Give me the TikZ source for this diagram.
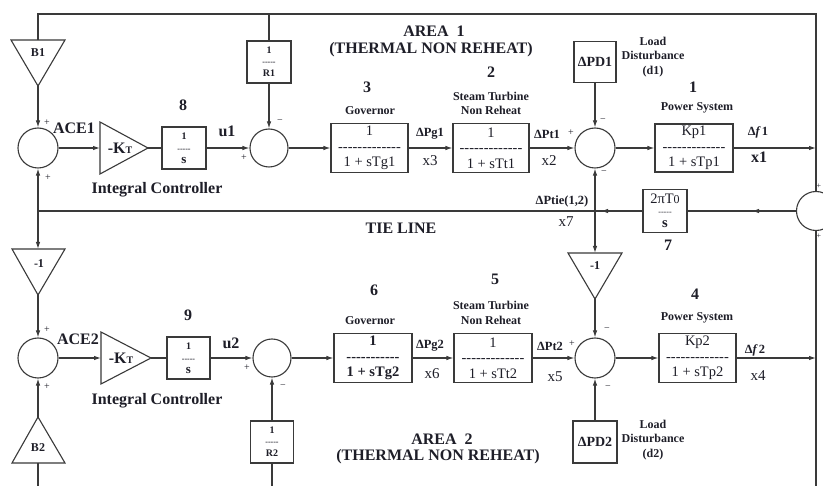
\documentclass[tikz,border=0pt]{standalone}
\usepackage{fontspec}
\setmainfont{Liberation Serif}[Ligatures=TeXOff]
\usetikzlibrary{arrows.meta,calc}
\definecolor{lc}{HTML}{3A3A3A}
\definecolor{tc}{HTML}{1E1E28}
\tikzset{
  ln/.style={draw=lc, line width=1.1pt},
  arr/.style={ln, -{Latex[length=7pt,width=4.5pt]}},
  blk/.style={draw=lc, line width=1.1pt, inner sep=0pt, align=center, text=tc,
    font=\fontsize{14.5}{15.5}\selectfont},
  sumc/.style={draw=lc, line width=1.1pt, circle, minimum size=40pt, inner sep=0pt},
  big/.style={text=tc, font=\bfseries\fontsize{16}{18}\selectfont, inner sep=0pt, align=center},
  sml/.style={text=tc, font=\bfseries\fontsize{12}{14.5}\selectfont, inner sep=0pt, align=center},
  sig/.style={text=tc, font=\bfseries\fontsize{12.5}{14}\selectfont, inner sep=0pt},
  xv/.style={text=tc, font=\fontsize{15}{17}\selectfont, inner sep=0pt},
  sgn/.style={text=tc, font=\fontsize{10}{10}\selectfont, inner sep=0pt},
  tri/.style={draw=lc, line width=1.1pt, line join=miter}
}
\begin{document}
\begin{tikzpicture}[x=1pt,y=-1pt]
\useasboundingbox (0,0) rectangle (823,486);
\clip (0,0) rectangle (823,486);
\fill[white] (0,0) rectangle (823,486);

% ---------- summing junctions ----------
\node[sumc] (ace1) at (38,148) {};
\node[sumc, minimum size=38pt] (s1) at (269,148) {};
\node[sumc] (s3) at (595,148) {};
\node[sumc, minimum size=39pt] (tie) at (816,211) {};
\node[sumc] (ace2) at (38,358) {};
\node[sumc, minimum size=38pt] (s2) at (272,358) {};
\node[sumc] (s4) at (595,358) {};

% ---------- blocks area 1 ----------
\node[blk, minimum width=44pt, minimum height=42pt, font=\bfseries\fontsize{10}{12}\selectfont] (int1) at (184,148)
  {1\\{\fontsize{8}{8}\selectfont -----}\\{\fontsize{13}{13}\selectfont s}};
\node[blk, minimum width=44pt, minimum height=42pt, font=\bfseries\fontsize{10}{12}\selectfont] (R1) at (269,62)
  {1\\[-1pt]{\fontsize{8}{8}\selectfont -----}\\R1};
\node[blk, minimum width=77pt, minimum height=49pt] (gov1) at (369.5,148)
  {1\\-------------\\1 + sTg1};
\node[blk, minimum width=76pt, minimum height=49pt] (tur1) at (491,148)
  {1\\-------------\\1 + sTt1};
\node[blk, minimum width=42pt, minimum height=41pt, font=\bfseries\fontsize{14}{15}\selectfont] (pd1) at (595,62)
  {ΔPD1};
\node[blk, minimum width=78pt, minimum height=48pt] (kp1) at (694,148)
  {Kp1\\-------------\\1 + sTp1};
\node[blk, minimum width=44pt, minimum height=43pt] (tieblk) at (665,211)
  {2πT{\fontsize{12}{12}\selectfont 0}\\[-5pt]{\fontsize{8}{8}\selectfont -----}\\[-2pt]{\bfseries s}};

% ---------- blocks area 2 ----------
\node[blk, minimum width=43pt, minimum height=42pt, font=\bfseries\fontsize{10}{12}\selectfont] (int2) at (188.5,358)
  {1\\{\fontsize{8}{8}\selectfont -----}\\{\fontsize{13}{13}\selectfont s}};
\node[blk, minimum width=43pt, minimum height=42pt, font=\bfseries\fontsize{10}{12}\selectfont] (R2) at (272,442)
  {1\\[-1pt]{\fontsize{8}{8}\selectfont -----}\\R2};
\node[blk, minimum width=78pt, minimum height=49pt, font=\bfseries\fontsize{14.5}{15.5}\selectfont] (gov2) at (373,358)
  {1\\-----------\\1 + sTg2};
\node[blk, minimum width=78pt, minimum height=49pt] (tur2) at (493,358)
  {1\\-------------\\1 + sTt2};
\node[blk, minimum width=44pt, minimum height=42pt, font=\bfseries\fontsize{14}{15}\selectfont] (pd2) at (595,442)
  {ΔPD2};
\node[blk, minimum width=77pt, minimum height=49pt] (kp2) at (697.5,358)
  {Kp2\\-------------\\1 + sTp2};

% ---------- triangles ----------
\draw[tri] (11,40) -- (65,40) -- (38,86) -- cycle;
\coordinate (b1top) at (38,40); \coordinate (b1ap) at (38,86);
\node[sml] (b1lbl) at (38,53) {B1};

\draw[tri] (100,122) -- (148,148) -- (100,174) -- cycle;
\coordinate (kt1l) at (100,148); \coordinate (kt1ap) at (148,148);
\node[big] (kt1lbl) at (120,148) {-K{\fontsize{10}{10}\selectfont T}};

\draw[tri] (12,249) -- (65,249) -- (38,295) -- cycle;
\coordinate (n1top) at (38,249); \coordinate (n1ap) at (38,295);
\node[sml] (n1lbl) at (39,264) {-1};

\draw[tri] (568,253) -- (622,253) -- (595,299) -- cycle;
\coordinate (n2top) at (595,253); \coordinate (n2ap) at (595,299);
\node[sml] (n2lbl) at (595,266) {-1};

\draw[tri] (101,332) -- (151,358) -- (101,384) -- cycle;
\coordinate (kt2l) at (101,358); \coordinate (kt2ap) at (151,358);
\node[big] (kt2lbl) at (121,358) {-K{\fontsize{10}{10}\selectfont T}};

\draw[tri] (12,463) -- (65,463) -- (38,417) -- cycle;
\coordinate (b2base) at (38,463); \coordinate (b2ap) at (38,417);
\node[sml] (b2lbl) at (38,448) {B2};

% ---------- frame coordinates ----------
\coordinate (tl) at (38,14);
\coordinate (tr) at (816,14);
\coordinate (bl) at (38,486);
\coordinate (br) at (816,486);
\coordinate (j1) at (38,211);
\coordinate (j2) at (595,211);
\coordinate (tiearr) at (752,211);
\coordinate (j2arr) at (601,211);

% ---------- connectors area 1 ----------
\draw[ln] (b1top) -- (tl) -- (tr) -- (tie.north);
\draw[ln] (R1.north) -- (R1.north |- tl);
\draw[arr] (b1ap) -- (ace1.north);
\draw[arr] (R1.south) -- (s1.north);
\draw[arr] (ace1.east) -- (kt1l);
\draw[ln] (kt1ap) -- (int1.west);
\draw[arr] (int1.east) -- (s1.west);
\draw[arr] (s1.east) -- (gov1.west);
\draw[arr] (gov1.east) -- (tur1.west);
\draw[arr] (tur1.east) -- (s3.west);
\draw[arr] (s3.east) -- (kp1.west);
\draw[arr] (kp1.east) -- (kp1.east -| tr);
\draw[arr] (pd1.south) -- (s3.north);

% ---------- tie line ----------
\draw[ln] (tie.west) -- (tieblk.east);
\draw[arr] (tie.west) -- (tiearr);
\draw[ln] (tieblk.west) -- (j1);
\draw[arr] (tieblk.west) -- (j2arr);
\draw[arr] (j2) -- (s3.south);
\draw[arr] (j2) -- (n2top);
\draw[arr] (j1) -- (ace1.south);
\draw[arr] (j1) -- (n1top);
\draw[ln] (tie.south) -- (br);

% ---------- connectors area 2 ----------
\draw[arr] (n1ap) -- (ace2.north);
\draw[arr] (b2ap) -- (ace2.south);
\draw[ln] (b2base) -- (bl);
\draw[arr] (ace2.east) -- (kt2l);
\draw[ln] (kt2ap) -- (int2.west);
\draw[arr] (int2.east) -- (s2.west);
\draw[arr] (R2.north) -- (s2.south);
\draw[ln] (R2.south) -- (R2.south |- bl);
\draw[arr] (s2.east) -- (gov2.west);
\draw[arr] (gov2.east) -- (tur2.west);
\draw[arr] (tur2.east) -- (s4.west);
\draw[arr] (s4.east) -- (kp2.west);
\draw[arr] (kp2.east) -- (kp2.east -| tr);
\draw[arr] (n2ap) -- (s4.north);
\draw[arr] (pd2.north) -- (s4.south);

% ---------- labels area 1 ----------
\node[big] (a1) at (434,31) {AREA\ \ 1};
\node[big] (a1b) at (431,50) {(THERMAL NON REHEAT)};
\node[big] (ace1l) at (74,128) {ACE1};
\node[sgn] at (47,123) {+};
\node[sgn] at (48,178) {+};
\node[big] at (183,105) {8};
\node[big] at (227,131) {u1};
\node[sgn] at (244,158) {+};
\node[sgn] at (280,122) {−};
\node[big] at (157,190) {Integral Controller};
\node[big] at (367,87) {3};
\node[sml] at (370,111) {Governor};
\node[big] at (491,72) {2};
\node[sml] at (491,103.5) {Steam Turbine\\Non Reheat};
\node[sig] at (430,134) {ΔPg1};
\node[xv] at (430,161) {x3};
\node[sig] at (547,134) {ΔPt1};
\node[sgn] at (571,133) {+};
\node[xv] at (549,161) {x2};
\node[sml] at (653,57) {Load\\Disturbance\\(d1)};
\node[sgn] at (603,121) {−};
\node[big] at (693,87) {1};
\node[sml] at (697,108) {Power System};
\node[sig] at (758,132) {Δ{\itshape f}\,1};
\node[big] at (759,157) {x1};
\node[sgn] at (604,173) {−};
\node[sig] at (562,201) {ΔPtie(1,2)};
\node[xv] at (566,222) {x7};
\node[big] at (668,245) {7};
\node[big] at (401,228) {TIE LINE};
\node[sgn, font=\fontsize{8}{8}\selectfont] at (819,186) {+};
\node[sgn, font=\fontsize{8}{8}\selectfont] at (819,236) {+};

% ---------- labels area 2 ----------
\node[sgn] at (47,330) {+};
\node[big] at (78,339) {ACE2};
\node[sgn] at (47,387) {+};
\node[big] at (188,315) {9};
\node[big] at (231,343) {u2};
\node[sgn] at (247,368) {+};
\node[sgn] at (283,387) {−};
\node[big] at (157,401) {Integral Controller};
\node[big] at (374,290) {6};
\node[sml] at (370,321) {Governor};
\node[big] at (495,279) {5};
\node[sml] at (491,313) {Steam Turbine\\Non Reheat};
\node[sig] at (430,346) {ΔPg2};
\node[xv] at (432,374) {x6};
\node[sig] at (550,346) {ΔPt2};
\node[sgn] at (572,344) {+};
\node[xv] at (555,377) {x5};
\node[big] at (442,439) {AREA\ \ 2};
\node[big] at (438,457) {(THERMAL NON REHEAT)};
\node[sgn] at (607,330) {−};
\node[big] at (695,294) {4};
\node[sml] at (697,318) {Power System};
\node[sig] at (755,350) {Δ{\itshape f}\,2};
\node[xv] at (758,376) {x4};
\node[sgn] at (608,388) {−};
\node[sml] at (653,440) {Load\\Disturbance\\(d2)};
\end{tikzpicture}
\end{document}
